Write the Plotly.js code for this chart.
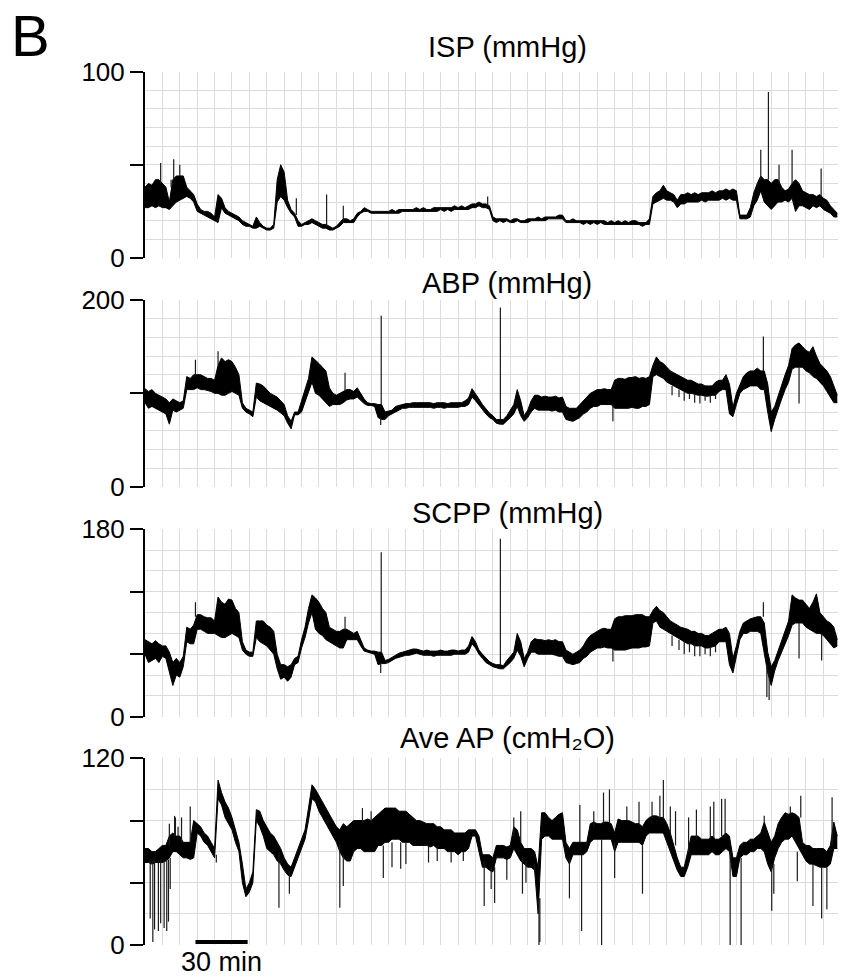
<!DOCTYPE html>
<html>
<head>
<meta charset="utf-8">
<script src="https://cdn.plot.ly/plotly-3.0.1.min.js"></script>
<style>
html, body { margin: 0; padding: 0; background: #fff; }
#chart { width: 842px; height: 976px; }
</style>
</head>
<body>
<div id="chart"></div>
<script>
// Each recording = min/max envelope of its dense core (one pair every 2 min, 0..398 min)
// plus a list of narrow spikes (minute, from, to).
const sampleStepMin = 2;

// ISP (mmHg)
const ispLow = [
  27,27,28,27,28,27,27,26,28,30,
  31,32,33,32,30,25,24,23,22,21,
  20,19,27,24,23,22,21,20,18,17,
  17,16,16,17,16,15,15,16,30,33,
  31,27,24,22,17,17,18,18,19,18,
  17,16,16,15,15,16,17,19,19,19,
  19,22,24,25,25,24,24,24,24,24,
  24,24,24,24,25,25,25,25,25,25,
  25,25,25,25,25,26,25,26,25,26,
  26,26,26,26,27,27,28,27,27,26,
  20,19,20,19,20,19,19,20,19,19,
  19,20,20,20,20,20,21,21,21,21,
  21,19,19,19,19,19,18,19,18,19,
  18,19,18,18,18,18,18,18,18,18,
  18,18,18,17,18,18,29,30,31,32,
  31,31,30,27,29,29,30,30,30,30,
  31,30,31,31,31,31,32,31,32,31,
  31,21,21,21,22,28,31,36,30,28,
  26,28,30,30,31,30,32,25,28,28,
  27,26,28,27,28,26,25,24,22,22
];
const ispHigh = [
  38,40,39,42,42,40,38,30,42,44,
  44,44,38,36,34,29,26,25,25,24,
  22,34,32,27,25,24,23,22,20,19,
  18,17,22,19,17,16,16,18,42,50,
  46,31,26,24,20,18,19,20,21,20,
  19,18,18,17,16,17,19,21,21,20,
  21,24,25,27,26,25,25,25,25,25,
  25,26,25,26,26,26,26,26,27,26,
  27,26,26,27,27,27,27,27,27,28,
  27,28,27,28,29,29,30,29,29,28,
  22,21,21,21,21,20,21,21,20,20,
  21,21,21,22,21,22,22,22,22,23,
  23,20,20,21,20,20,20,20,20,20,
  20,20,20,19,20,19,20,19,20,19,
  20,20,19,19,19,21,33,35,36,39,
  36,35,34,31,34,34,35,34,35,34,
  35,35,35,36,35,36,36,37,36,37,
  36,23,23,23,27,35,40,44,42,42,
  40,42,42,38,36,37,40,42,40,36,
  35,34,34,33,34,32,31,28,26,24
];
const ispSpikeMin  = [9, 15, 16.5, 20, 87, 104.4, 114, 197, 354, 358.4, 364.5, 372, 388.7];
const ispSpikeFrom = [40, 38, 42, 44, 23, 17, 20, 28, 42, 42, 40, 40, 33];
const ispSpikeTo   = [51, 42, 53, 50, 32, 34, 28, 33, 58, 89, 50, 58, 48];

// ABP (mmHg)
const abpLow = [
  90,84,86,84,82,80,78,67,82,80,
  82,84,104,104,104,106,104,104,103,102,
  100,100,98,98,100,102,100,98,84,80,
  78,75,96,92,90,88,86,84,82,79,
  76,68,62,77,77,80,90,100,112,100,
  98,94,90,86,88,88,88,90,93,94,
  94,96,92,89,87,87,86,74,72,72,
  76,78,80,82,84,84,85,85,85,85,
  85,85,85,84,85,85,84,85,85,85,
  85,86,86,88,96,92,87,82,78,74,
  72,68,67,67,70,74,78,86,76,70,
  74,80,84,82,82,82,82,81,82,80,
  80,72,71,70,72,74,78,80,84,86,
  86,88,88,88,88,84,84,84,84,84,
  85,84,84,86,86,88,118,120,118,116,
  112,110,108,106,104,102,100,100,99,98,
  98,97,97,98,98,102,104,104,78,75,
  88,100,104,106,108,108,108,104,104,80,
  59,72,84,94,104,112,126,128,128,128,
  124,122,118,116,112,108,102,96,90,90
];
const abpHigh = [
  105,102,104,100,98,96,94,90,94,92,
  90,92,118,116,120,120,120,118,116,116,
  114,130,138,134,136,134,128,120,90,84,
  82,80,111,110,108,104,100,98,96,92,
  88,76,70,80,80,92,104,116,139,136,
  132,128,124,106,100,98,100,102,104,104,
  102,106,100,94,90,89,89,88,88,80,
  81,82,86,87,88,89,89,90,90,90,
  90,90,90,89,90,90,90,89,90,90,
  90,90,92,95,105,100,94,88,83,79,
  76,72,72,72,76,82,88,104,92,76,
  82,92,98,98,96,97,96,96,97,95,
  96,86,84,84,84,88,92,96,100,102,
  104,104,105,104,104,114,116,116,115,117,
  117,118,116,117,116,118,130,139,134,132,
  128,124,122,120,118,116,114,114,112,110,
  110,108,108,108,112,114,114,120,110,85,
  100,110,118,122,124,124,127,124,124,110,
  80,86,98,110,120,130,148,152,154,150,
  146,144,150,140,132,128,124,118,108,98
];
const abpSpikeMin  = [29, 42, 115, 135.8, 135.5, 204.3, 269, 303, 307, 310, 313, 316, 319, 322, 325, 328, 355.5, 376];
const abpSpikeFrom = [118, 130, 102, 88, 74, 72, 88, 108, 104, 102, 100, 100, 98, 97, 98, 100, 124, 128];
const abpSpikeTo   = [136, 145, 122, 183, 66, 192, 70, 98, 96, 92, 94, 90, 89, 92, 90, 94, 161, 89];

// SCPP (mmHg)
const scppLow = [
  60,52,54,56,52,58,56,44,30,40,
  38,48,72,70,70,84,84,82,80,80,
  80,78,76,76,78,80,78,76,64,60,
  58,58,76,72,70,68,64,60,46,36,
  38,34,38,50,52,66,76,90,100,84,
  80,78,74,72,70,68,66,66,74,74,
  74,74,68,63,62,61,60,50,51,51,
  52,54,56,57,58,59,59,60,61,60,
  59,59,59,58,59,59,59,59,59,60,
  60,60,60,62,70,66,60,56,52,50,
  48,47,46,46,49,52,56,64,58,48,
  56,62,62,60,60,60,60,60,59,58,
  58,52,51,50,51,52,56,58,62,64,
  66,66,67,66,66,64,64,64,64,65,
  66,66,66,67,67,68,90,92,86,84,
  82,80,78,76,74,72,70,70,68,68,
  68,66,66,67,68,72,72,72,50,42,
  58,74,80,80,82,82,82,80,60,42,
  30,44,54,62,70,78,88,90,90,90,
  86,84,82,80,80,78,74,70,66,68
];
const scppHigh = [
  74,72,70,73,70,68,68,62,52,56,
  52,58,86,84,88,98,98,96,95,95,
  92,115,110,108,113,112,104,100,72,64,
  62,62,92,92,92,88,86,82,60,50,
  50,48,50,56,58,74,86,104,117,114,
  110,104,100,86,84,82,82,84,84,82,
  80,82,74,66,64,63,63,62,62,54,
  55,57,59,61,62,63,64,65,65,64,
  63,64,63,63,63,64,63,63,64,64,
  63,64,64,68,77,72,64,60,56,53,
  51,50,50,49,54,58,62,80,72,56,
  62,72,75,74,74,73,74,73,74,72,
  72,64,62,60,62,64,68,74,78,80,
  82,84,85,84,84,94,96,96,97,97,
  97,98,98,98,96,96,102,106,102,100,
  96,92,90,88,86,85,84,82,82,80,
  80,78,78,80,82,84,84,86,80,56,
  68,82,90,92,94,95,96,96,90,62,
  48,54,64,74,84,92,117,114,112,112,
  108,104,110,118,100,96,92,90,86,74
];
const scppSpikeMin  = [29, 115, 135.8, 135.5, 204.3, 269, 303, 307, 310, 313, 316, 319, 322, 325, 328, 355.5, 357.5, 358.8, 376, 389];
const scppSpikeFrom = [96, 84, 62, 51, 50, 66, 78, 74, 72, 70, 70, 68, 66, 67, 68, 96, 50, 45, 90, 80];
const scppSpikeTo   = [110, 96, 158, 42, 171, 53, 68, 64, 60, 62, 58, 58, 60, 58, 62, 110, 19, 16, 56, 54];

// Ave AP (cmH2O)
const aveApLow = [
  53,53,52,53,53,53,54,56,60,60,
  58,56,56,55,56,72,70,66,64,60,
  56,94,90,82,78,74,66,60,40,31,
  34,40,80,76,70,62,60,58,54,52,
  48,45,44,50,56,62,68,80,94,92,
  86,82,78,74,70,66,60,56,54,54,
  60,62,62,60,60,60,60,64,64,66,
  66,68,68,68,66,66,66,64,64,64,
  64,64,63,64,62,62,62,60,60,60,
  58,60,60,62,70,70,60,50,50,48,
  47,56,56,56,55,56,62,58,54,52,
  50,50,48,20,68,70,70,68,68,68,
  68,56,52,58,58,58,58,60,66,68,
  68,68,68,68,68,60,66,66,66,66,
  66,66,66,64,70,72,72,72,72,72,
  66,60,54,48,44,44,50,58,58,58,
  58,58,58,60,58,58,60,62,60,44,
  44,56,58,58,60,60,62,62,60,52,
  47,56,62,66,68,68,70,66,62,58,
  54,52,52,51,50,50,50,52,62,62
];
const aveApHigh = [
  62,62,60,60,62,64,64,70,72,70,
  70,66,66,66,80,78,76,72,70,66,
  62,106,98,92,88,82,74,66,52,36,
  40,47,87,86,80,76,72,70,66,62,
  56,52,50,56,62,68,74,88,103,100,
  96,92,88,84,80,76,74,78,76,78,
  80,80,80,80,81,80,82,84,86,88,
  88,88,88,86,86,86,84,82,80,80,
  79,78,78,78,76,76,74,74,74,72,
  72,72,72,74,74,74,70,58,58,58,
  56,64,64,64,63,64,76,74,66,62,
  62,62,60,50,85,85,82,80,82,84,
  85,66,62,66,66,66,66,66,78,79,
  78,78,79,79,78,72,81,80,80,80,
  79,78,78,76,80,82,83,83,82,82,
  78,72,64,56,50,50,60,70,70,70,
  68,68,68,70,68,68,70,72,70,56,
  56,64,66,66,68,68,70,72,79,72,
  66,70,78,82,85,84,85,84,82,66,
  64,64,62,62,62,62,60,64,79,70
];
const aveApSpikeMin = [
  3, 4.5, 5.5, 7.7, 9, 11, 12.5, 13.5, 14.5, 14,
  17, 17.5, 19, 21, 26, 41, 77, 83, 112, 114,
  125, 130, 137, 142, 147, 150, 163, 168, 176, 183,
  195, 199, 201, 208, 212, 216, 217, 219, 224, 226.5,
  227, 244, 250, 251, 258, 262.5, 263.6, 267, 270, 277,
  284, 286, 291.5, 296, 298, 302, 305, 312.5, 317, 325,
  327, 331.5, 333.5, 336.4, 342.7, 356, 360.3, 361.5, 371, 375,
  377, 384, 389, 392, 395
];
const aveApSpikeFrom = [
  55, 55, 55, 55, 55, 55, 55, 55, 56, 64,
  70, 70, 68, 66, 66, 58, 60, 48, 66, 58,
  78, 78, 64, 66, 66, 66, 64, 62, 60, 60,
  54, 50, 50, 56, 70, 66, 56, 54, 52, 30,
  30, 56, 66, 58, 76, 68, 78, 78, 66, 80,
  78, 64, 82, 82, 82, 72, 64, 60, 68, 68,
  68, 70, 70, 60, 56, 79, 52, 52, 84, 60,
  82, 52, 50, 50, 64
];
const aveApSpikeTo = [
  17, 2, 10, 9, 14, 11, 9, 15, 36, 78,
  83, 82, 76, 82, 89, 53, 24, 33, 24, 38,
  88, 86, 43, 50, 49, 52, 53, 54, 53, 54,
  25, 36, 27, 42, 82, 86, 33, 40, 47, 0,
  2, 30, 90, 9, 86, 0, 98, 100, 43, 89,
  92, 33, 92, 96, 106, 89, 86, 82, 87, 89,
  92, 94, 94, 0, 0, 83, 22, 33, 89, 41,
  96, 25, 17, 23, 95
];

const panelTitles = ['ISP (mmHg)', 'ABP (mmHg)', 'SCPP (mmHg)', 'Ave AP (cmH\u2082O)'];
const panelMax = [100, 200, 180, 120];
const labelledTicks = [[0, 100], [0, 200], [0, 180], [0, 120]];
const unlabelledTicks = [[50], [100], [60, 120], [40, 80]];
const gridStep = [10, 20, 20, 20];
const timeRangeMin = [0, 398.4];
const timeGridMin = 10;
const scaleBarMinutes = [29, 59];
const scaleBarLabel = '30 min';
const panelLetter = 'B';

// ---- layout geometry (pixels in the 842x976 page) ----
const W = 842, H = 976;
const plotLeftPx = 145, plotRightPx = 838;
const panelTopPx = [71.5, 300, 529.3, 758.3];
const panelBottomPx = [258, 486.7, 716.7, 945];
const titleCenterPx = [47, 283, 513, 738];
const titleXPx = 507;
const FONT = '"Liberation Sans", Arial, Helvetica, sans-serif';
const gridColor = '#dcdcdc';

const panels = [
  { lo: ispLow, hi: ispHigh, sMin: ispSpikeMin, sFrom: ispSpikeFrom, sTo: ispSpikeTo },
  { lo: abpLow, hi: abpHigh, sMin: abpSpikeMin, sFrom: abpSpikeFrom, sTo: abpSpikeTo },
  { lo: scppLow, hi: scppHigh, sMin: scppSpikeMin, sFrom: scppSpikeFrom, sTo: scppSpikeTo },
  { lo: aveApLow, hi: aveApHigh, sMin: aveApSpikeMin, sFrom: aveApSpikeFrom, sTo: aveApSpikeTo }
];

const traces = [];
panels.forEach((p, i) => {
  const xa = i === 0 ? 'x' : 'x' + (i + 1);
  const ya = i === 0 ? 'y' : 'y' + (i + 1);
  const t = p.lo.map((_, j) => j * sampleStepMin);
  traces.push({
    x: t, y: p.lo, type: 'scatter', mode: 'lines',
    line: { color: '#000', width: 1 },
    xaxis: xa, yaxis: ya, hoverinfo: 'skip', showlegend: false
  });
  traces.push({
    x: t, y: p.hi, type: 'scatter', mode: 'lines',
    line: { color: '#000', width: 1 },
    fill: 'tonexty', fillcolor: '#000',
    xaxis: xa, yaxis: ya, hoverinfo: 'skip', showlegend: false
  });
  const sx = [], sy = [];
  p.sMin.forEach((m, k) => {
    sx.push(m, m, null);
    sy.push(p.sFrom[k], p.sTo[k], null);
  });
  traces.push({
    x: sx, y: sy, type: 'scatter', mode: 'lines',
    line: { color: '#1a1a1a', width: 1.2 },
    connectgaps: false,
    xaxis: xa, yaxis: ya, hoverinfo: 'skip', showlegend: false
  });
});

const layout = {
  width: W,
  height: H,
  margin: { l: 0, r: 0, t: 0, b: 0, pad: 0 },
  paper_bgcolor: '#fff',
  plot_bgcolor: '#fff',
  showlegend: false,
  annotations: [],
  shapes: []
};

panels.forEach((_, i) => {
  const s = i === 0 ? '' : String(i + 1);
  const so = String(i + 5);
  const gridVals = [];
  for (let v = 0; v <= panelMax[i]; v += gridStep[i]) gridVals.push(v);

  layout['xaxis' + s] = {
    domain: [plotLeftPx / W, plotRightPx / W],
    range: timeRangeMin,
    anchor: 'y' + s,
    tickmode: 'linear', tick0: 0, dtick: timeGridMin,
    showgrid: true, gridcolor: gridColor, gridwidth: 1,
    showticklabels: false, ticks: '',
    zeroline: false, showline: false, fixedrange: true
  };
  layout['yaxis' + s] = {
    domain: [1 - panelBottomPx[i] / H, 1 - panelTopPx[i] / H],
    range: [0, panelMax[i]],
    anchor: 'x' + s,
    tickmode: 'array', tickvals: gridVals,
    showticklabels: false, ticks: '',
    showgrid: true, gridcolor: gridColor, gridwidth: 1,
    zeroline: false, showline: false, fixedrange: true
  };
  layout['yaxis' + so] = {
    overlaying: 'y' + s,
    anchor: 'x' + s,
    side: 'left',
    range: [0, panelMax[i]],
    tickmode: 'array',
    tickvals: labelledTicks[i],
    ticktext: labelledTicks[i].map(String),
    ticks: 'outside', ticklen: 13, tickwidth: 2, tickcolor: '#000',
    tickfont: { family: FONT, size: 26, color: '#000' },
    showline: true, linecolor: '#000', linewidth: 2,
    showgrid: false, zeroline: false, fixedrange: true,
    minor: {
      tickmode: 'array', tickvals: unlabelledTicks[i],
      ticks: 'outside', ticklen: 13, tickwidth: 2, tickcolor: '#000',
      showgrid: false
    }
  };
  traces.push({
    x: [], y: [], type: 'scatter', mode: 'lines',
    xaxis: 'x' + s, yaxis: 'y' + so, hoverinfo: 'skip', showlegend: false
  });

  layout.annotations.push({
    text: panelTitles[i],
    xref: 'paper', yref: 'paper',
    x: titleXPx / W, y: 1 - titleCenterPx[i] / H,
    xanchor: 'center', yanchor: 'middle',
    showarrow: false,
    font: { family: FONT, size: 29, color: '#000' }
  });
});

layout.annotations.push({
  text: panelLetter,
  xref: 'paper', yref: 'paper',
  x: 30 / W, y: 1 - 35 / H,
  xanchor: 'center', yanchor: 'middle',
  showarrow: false,
  font: { family: FONT, size: 58, color: '#000' }
});

layout.annotations.push({
  text: scaleBarLabel,
  xref: 'x4', yref: 'paper',
  x: (scaleBarMinutes[0] + scaleBarMinutes[1]) / 2, y: 1 - 962 / H,
  xanchor: 'center', yanchor: 'middle',
  showarrow: false,
  font: { family: FONT, size: 27, color: '#000' }
});

layout.shapes.push({
  type: 'line',
  xref: 'x4', yref: 'paper',
  x0: scaleBarMinutes[0], x1: scaleBarMinutes[1],
  y0: 1 - 942 / H, y1: 1 - 942 / H,
  line: { color: '#000', width: 4 }
});

Plotly.newPlot('chart', traces, layout, { displayModeBar: false, staticPlot: true });
</script>
</body>
</html>
